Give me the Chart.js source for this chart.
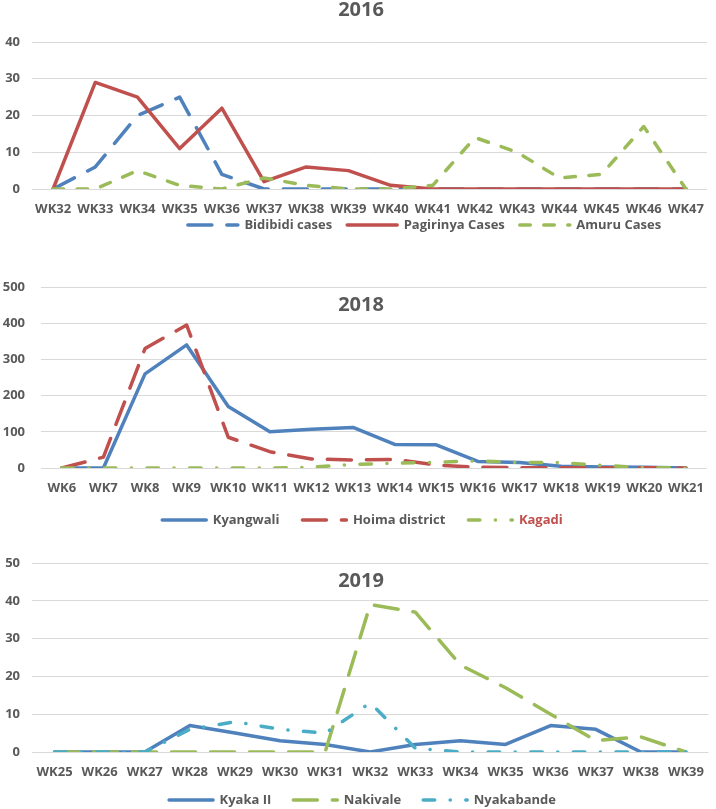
<!DOCTYPE html>
<html lang="en">
<head>
<meta charset="UTF-8">
<title>Weekly cases 2016 / 2018 / 2019</title>
<script src="https://cdn.jsdelivr.net/npm/chart.js"></script>
<style>
    body { margin: 0; background: #fff; overflow: hidden; }
    .panel { position: absolute; left: 0; width: 716px; }
    #p2016 { top: 0; height: 257px; }
    #p2018 { top: 240px; height: 304px; }
    #p2019 { top: 530px; height: 297px; }
</style>
</head>
<body>

<div class="panel" id="p2016"><canvas id="chart2016"></canvas></div>
<div class="panel" id="p2018"><canvas id="chart2018"></canvas></div>
<div class="panel" id="p2019"><canvas id="chart2019"></canvas></div>

<script>
    // 2016
    const weeks2016 = ['WK32', 'WK33', 'WK34', 'WK35', 'WK36', 'WK37', 'WK38', 'WK39',
        'WK40', 'WK41', 'WK42', 'WK43', 'WK44', 'WK45', 'WK46', 'WK47'];
    const bidibidi = [0, 6, 20, 25, 4, 0, 0, 0, 0, 0, 0, 0, 0, 0, 0, 0];
    const pagirinya = [0, 29, 25, 11, 22, 2, 6, 5, 1, 0, 0, 0, 0, 0, 0, 0];
    const amuru = [0, 0, 5, 1, 0, 3, 1, 0, 0, 1, 14, 10, 3, 4, 17, 0];
    const yTicks2016 = [0, 10, 20, 30, 40];

    // 2018
    const weeks2018 = ['WK6', 'WK7', 'WK8', 'WK9', 'WK10', 'WK11', 'WK12', 'WK13',
        'WK14', 'WK15', 'WK16', 'WK17', 'WK18', 'WK19', 'WK20', 'WK21'];
    const kyangwali = [0, 0, 260, 340, 170, 100, 107, 112, 65, 64, 18, 15, 5, 3, 2, 0];
    const hoima = [0, 30, 330, 395, 85, 45, 25, 22, 24, 8, 2, 1, 1, 1, 1, 0];
    const kagadi = [0, 0, 0, 0, 0, 0, 2, 10, 13, 16, 20, 15, 15, 7, 1, 0];
    const yTicks2018 = [0, 100, 200, 300, 400, 500];

    // 2019
    const weeks2019 = ['WK25', 'WK26', 'WK27', 'WK28', 'WK29', 'WK30', 'WK31', 'WK32',
        'WK33', 'WK34', 'WK35', 'WK36', 'WK37', 'WK38', 'WK39'];
    const kyakaII = [0, 0, 0, 7, 5, 3, 2, 0, 2, 3, 2, 7, 6, 0, 0];
    const nakivale = [0, 0, 0, 0, 0, 0, 0, 39, 37, 23, 17, 10, 3, 4, 0];
    const nyakabande = [0, 0, 0, 6, 8, 6, 5, 13, 1, 0, 0, 0, 0, 0, 0];
    const yTicks2019 = [0, 10, 20, 30, 40, 50];
</script>

<script>
    const BLUE = '#4F81BD';
    const RED = '#C0504D';
    const GREEN = '#9BBB59';
    const CYAN = '#4BACC6';
    const GRAY = '#595959';

    const labelFont = { family: '"Open Sans", sans-serif', size: 13, weight: 'bold' };

    // dash patterns (round caps add the line width to each dash)
    const LONG_DASH = [24, 15];
    const DASH = [10.5, 13.5];
    const DASH_DOT = [11.5, 15.5, 0.1, 15.5];

    function serie(label, data, color, dash, order, legendColor) {
        return {
            label: label,
            data: data,
            borderColor: color,
            backgroundColor: color,
            borderWidth: 3.5,
            borderDash: dash,
            borderCapStyle: 'round',
            borderJoinStyle: 'round',
            pointRadius: 0,
            tension: 0,
            fill: false,
            order: order,
            legendColor: legendColor || GRAY
        };
    }

    // year title drawn over the plot, like the original
    const yearTitle = {
        id: 'yearTitle',
        afterDraw(chart, args, opts) {
            const ctx = chart.ctx;
            ctx.save();
            ctx.font = 'bold 20px "Open Sans", sans-serif';
            ctx.fillStyle = GRAY;
            ctx.textAlign = 'center';
            ctx.textBaseline = 'middle';
            ctx.fillText(opts.text, 361, opts.y);
            ctx.restore();
        }
    };

    // the legends sit a bit off the default place in the original
    const legendShift = {
        id: 'legendShift',
        afterLayout(chart, args, opts) {
            const lg = chart.legend;
            lg.left += opts.dx;
            lg.right += opts.dx;
            lg.top += opts.dy;
            lg.bottom += opts.dy;
        }
    };

    function legendItems(chart) {
        return chart.data.datasets.map((ds, i) => ({
            text: ds.label,
            datasetIndex: i,
            fillStyle: ds.borderColor,
            strokeStyle: ds.borderColor,
            lineWidth: ds.borderWidth,
            lineDash: ds.borderDash,
            lineCap: 'round',
            pointStyle: 'line',
            fontColor: ds.legendColor,
            hidden: false
        }));
    }

    function makePanel(canvasId, p) {
        return new Chart(document.getElementById(canvasId), {
            type: 'line',
            data: { labels: p.labels, datasets: p.datasets },
            options: {
                responsive: true,
                maintainAspectRatio: false,
                animation: false,
                layout: { padding: { top: p.padTop, right: 1, left: 0, bottom: 0 } },
                scales: {
                    x: {
                        offset: true,
                        grid: { display: false, drawTicks: false },
                        border: { display: false },
                        ticks: { color: GRAY, font: labelFont, padding: 12, autoSkip: false, maxRotation: 0 },
                        afterFit: s => { s.height = 30; }
                    },
                    y: {
                        min: 0,
                        max: p.yTicks[p.yTicks.length - 1],
                        afterBuildTicks: s => { s.ticks = p.yTicks.map(v => ({ value: v })); },
                        grid: { color: '#D9D9D9', lineWidth: 1, drawTicks: false },
                        border: { display: false },
                        ticks: { color: GRAY, font: labelFont, padding: p.yPad },
                        afterFit: s => { s.width = p.yWidth; }
                    }
                },
                plugins: {
                    legend: {
                        position: 'bottom',
                        labels: {
                            usePointStyle: true,
                            pointStyleWidth: p.markWidth,
                            padding: p.legendGap,
                            font: labelFont,
                            generateLabels: legendItems
                        }
                    },
                    tooltip: { enabled: false },
                    yearTitle: { text: p.title, y: p.titleY },
                    legendShift: { dx: p.legendDx, dy: p.legendDy }
                }
            },
            plugins: [yearTitle, legendShift]
        });
    }

    makePanel('chart2016', {
        title: '2016', titleY: 10,
        labels: weeks2016, yTicks: yTicks2016,
        padTop: 42, yWidth: 32, yPad: 12,
        markWidth: 50, legendGap: 15, legendDx: 67, legendDy: -15.5,
        datasets: [
            serie('Bidibidi cases', bidibidi, BLUE, LONG_DASH, 3),
            serie('Pagirinya Cases', pagirinya, RED, [], 2),
            serie('Amuru Cases', amuru, GREEN, DASH, 1)
        ]
    });

    makePanel('chart2018', {
        title: '2018', titleY: 65,
        labels: weeks2018, yTicks: yTicks2018,
        padTop: 47, yWidth: 41, yPad: 16,
        markWidth: 44, legendGap: 23, legendDx: 5, legendDy: -7.5,
        datasets: [
            serie('Kyangwali', kyangwali, BLUE, [], 3),
            serie('Hoima district', hoima, RED, LONG_DASH, 2),
            serie('Kagadi', kagadi, GREEN, DASH_DOT, 1, RED)
        ]
    });

    makePanel('chart2019', {
        title: '2019', titleY: 51,
        labels: weeks2019, yTicks: yTicks2019,
        padTop: 33, yWidth: 32, yPad: 12,
        markWidth: 44, legendGap: 22, legendDx: 5, legendDy: -10.5,
        datasets: [
            serie('Kyaka II', kyakaII, BLUE, [], 3),
            serie('Nakivale', nakivale, GREEN, LONG_DASH, 2),
            serie('Nyakabande', nyakabande, CYAN, DASH_DOT, 1)
        ]
    });
</script>

</body>
</html>
